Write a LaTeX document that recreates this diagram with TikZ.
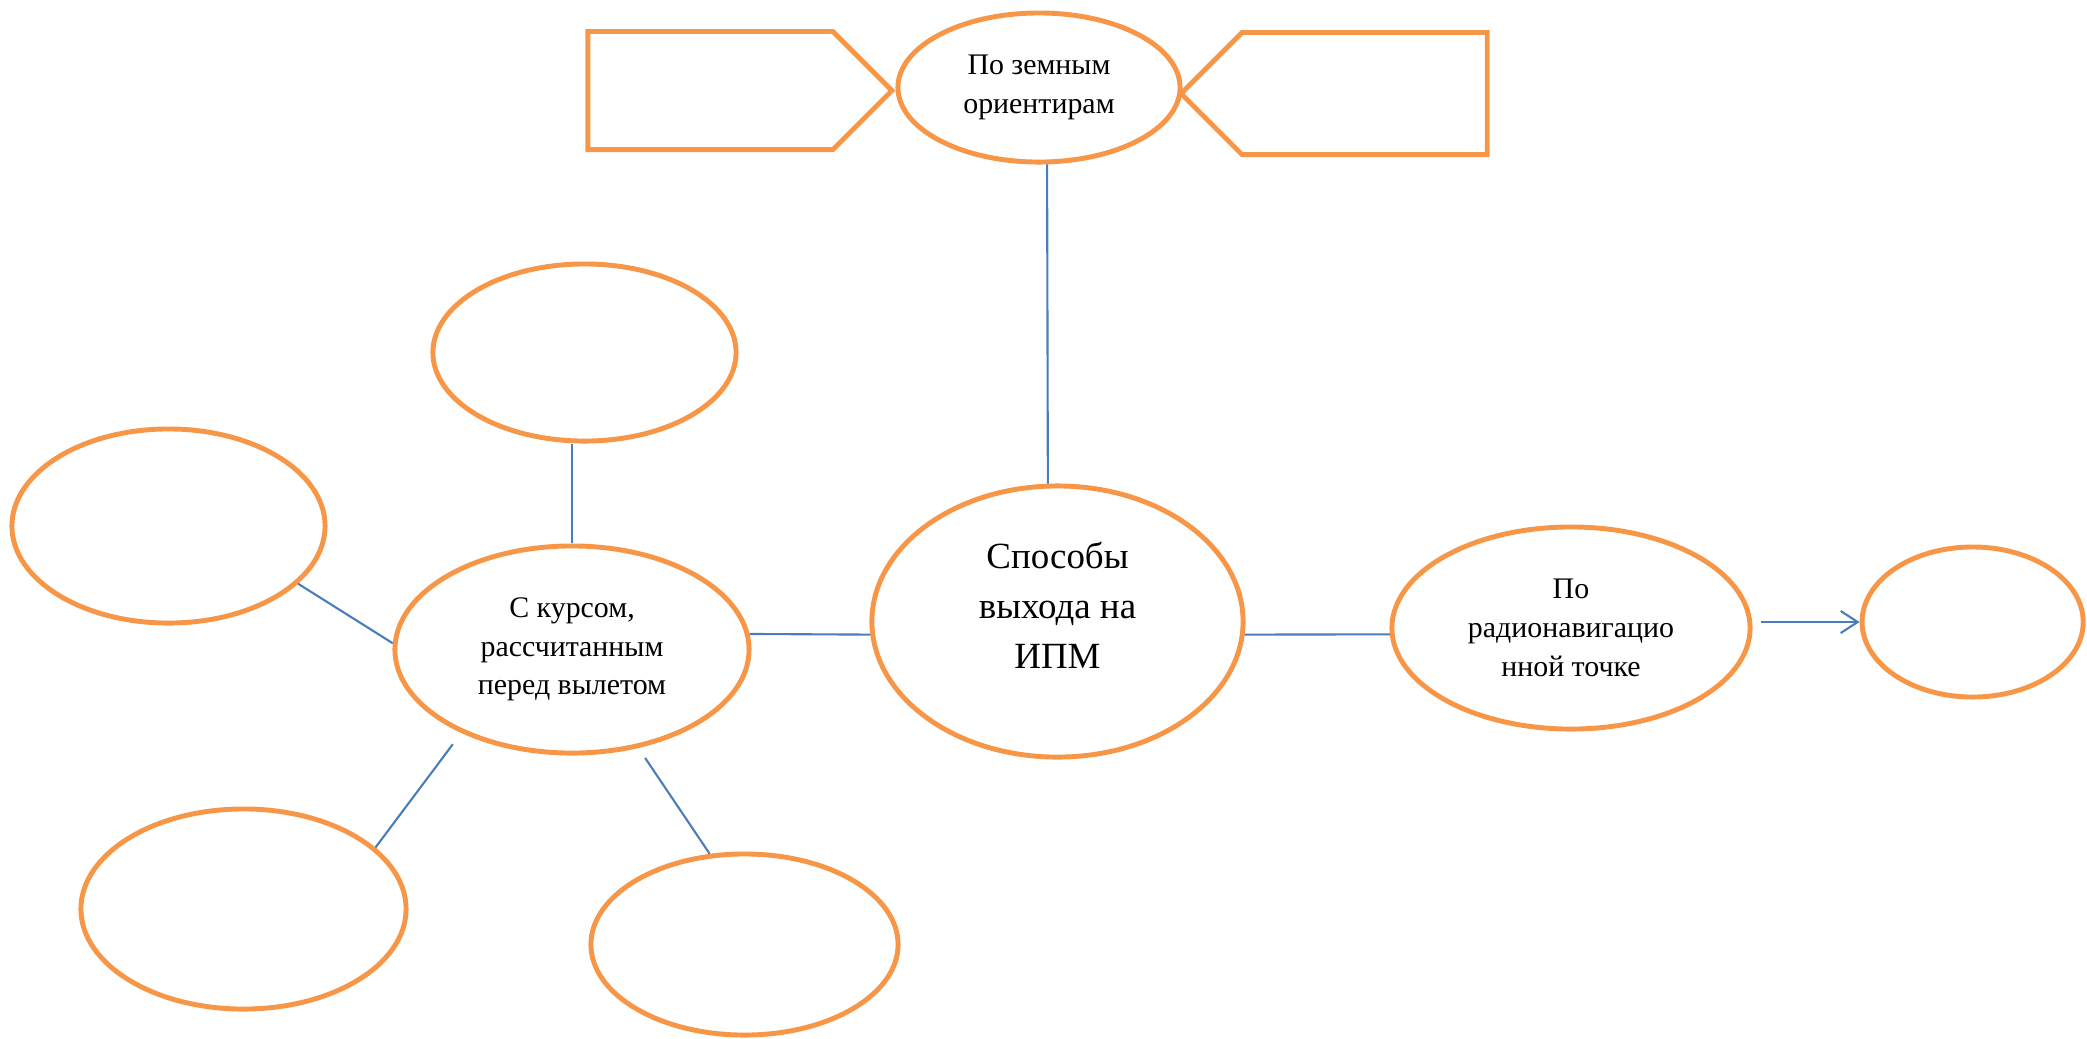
\documentclass[tikz,border=0pt]{standalone}
\usepackage{fontspec}
\setmainfont{Liberation Serif}
\usetikzlibrary{positioning}
\usetikzlibrary{shapes.geometric}
\usetikzlibrary{shapes.symbols}
\usetikzlibrary{arrows.meta}
\definecolor{ovalorange}{RGB}{247, 150, 70}
\definecolor{linkblue}{RGB}{74, 126, 187}

\begin{document}
\begin{tikzpicture}
  [
    x           = 0.01cm,
    y           = -0.01cm,
    link/.style = {draw=linkblue, line width=0.6pt}
  ]
  \useasboundingbox (0,0) rectangle (2087,1038);
  \begin{scope}[oval/.style={ellipse,draw=ovalorange,line width=1.4pt,fill=white,align=center,inner sep=0pt,font=\fontsize{8.5}{11}\selectfont},
  			tag/.style={signal,draw=ovalorange,line width=1.4pt,signal pointer angle=90,inner sep=0pt}]
  \node [oval,minimum width=3.71cm,minimum height=2.71cm,text depth=0.33cm,font=\fontsize{10.5}{14.2}\selectfont] (ipm) at (1057.5,621.5) {Способы\\выхода на\\ИПМ};
  \node [oval,minimum width=2.82cm,minimum height=1.49cm] (zem) at (1039,87.5) {По земным\\ориентирам};
  \node [tag,signal to=east,minimum width=3.04cm,minimum height=1.18cm,yshift=-0.03cm] (tagl) [left=0cm of zem] {};
  \node [tag,signal to=west,minimum width=3.06cm,minimum height=1.22cm,yshift=-0.06cm] (tagr) [right=-0.05cm of zem] {};
  \node [oval,minimum width=3.54cm,minimum height=2.07cm] (kurs) at (572,649.5) {С курсом,\\рассчитанным\\перед вылетом};
  \node [oval,minimum width=3.58cm,minimum height=2.02cm] (radio) at (1571,628) {По\\радионавигацио\\нной точке};
  \node [oval,minimum width=2.21cm,minimum height=1.50cm,yshift=0.06cm] (rtc) [right=1.07cm of radio] {};
  \node [oval,minimum width=3.03cm,minimum height=1.77cm] (topc) at (584.5,352.5) {};
  \node [oval,minimum width=3.13cm,minimum height=1.94cm] (leftc) at (168.5,526) {};
  \node [oval,minimum width=3.25cm,minimum height=2.00cm] (blc) at (243.5,909) {};
  \node [oval,minimum width=3.07cm,minimum height=1.81cm] (bmc) at (744.5,944.5) {};
  \draw [link] (zem.276) -- (ipm.94);
  \draw [link] (kurs.5) -- (ipm.184);
  \draw [link] (ipm.356) -- (radio.182);
  \draw [link,-{Straight Barb[length=1.7mm,width=2.2mm]},shorten <=0.08cm] (rtc.west -| radio.east) -- (rtc.west);
  \draw [link] (kurs.north) -- (kurs.north |- topc.south);
  \draw [link] (leftc.336) -- (kurs.178);
  \draw [link,shorten <=0.14cm] (kurs.217) -- (blc.25);
  \draw [link,shorten <=0.12cm] (kurs.304) -- (bmc.111);
  \end{scope}
\end{tikzpicture}
\end{document}
